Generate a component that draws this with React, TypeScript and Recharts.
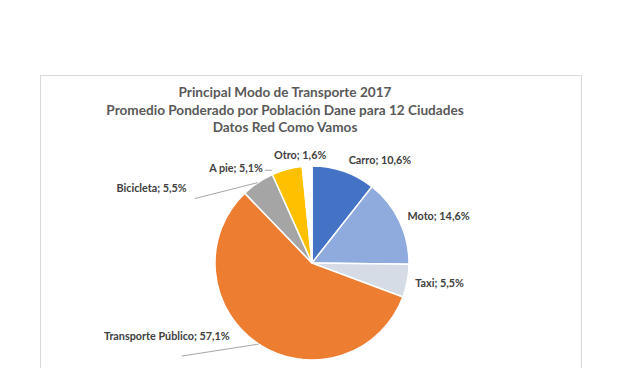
import { PieChart, Pie, Cell } from 'recharts';

const modes = ['Carro', 'Moto', 'Taxi', 'Transporte Público', 'Bicicleta', 'A pie', 'Otro'];
const shares = [10.6, 14.6, 5.5, 57.1, 5.5, 5.1, 1.6];
const colors = ['#4472C4', '#8FAADC', '#D6DCE5', '#ED7D31', '#A5A5A5', '#FFC000', '#FFFFFF'];

const titleLines = [
  'Principal Modo de Transporte 2017',
  'Promedio Ponderado por Población Dane para 12 Ciudades',
  'Datos Red Como Vamos',
];

const data = modes.map((name, i) => ({ name, value: shares[i] }));

// label placement relative to the slice edge at its mid angle (Excel-like layout)
const labelLayout: Record<string, { dx: number; dy: number; anchor: string; line?: [number, number, number, number] }> = {
  Carro: { dx: 5, dy: -12, anchor: 'start' },
  Moto: { dx: 8, dy: -6, anchor: 'start' },
  Taxi: { dx: 8, dy: 2, anchor: 'start' },
  'Transporte Público': { dx: -29, dy: -9, anchor: 'end', line: [0, 0, -77, 12] },
  Bicicleta: { dx: -71, dy: 5, anchor: 'end', line: [0, 0, -63, 16] },
  'A pie': { dx: -24, dy: -2, anchor: 'end', line: [-15, 1, -22, 1] },
  Otro: { dx: -7, dy: -12, anchor: 'middle' },
};

const RAD = Math.PI / 180;

const renderLabel = (props: any) => {
  const { cx, cy, midAngle, outerRadius, name, value } = props;
  const ex = cx + outerRadius * Math.cos(-midAngle * RAD);
  const ey = cy + outerRadius * Math.sin(-midAngle * RAD);
  const l = labelLayout[name];
  const txt = `${name}; ${value.toFixed(1).replace('.', ',')}%`;
  return (
    <g>
      {l.line && (
        <line x1={ex + l.line[0]} y1={ey + l.line[1]} x2={ex + l.line[2]} y2={ey + l.line[3]} stroke="#a6a6a6" strokeWidth={1} />
      )}
      <text x={ex + l.dx} y={ey + l.dy} textAnchor={l.anchor as any} dominantBaseline="central" fill="#404040" fontSize={10.8} fontWeight="bold" fontFamily="Lato">
        {txt}
      </text>
    </g>
  );
};

export default function App() {
  return (
    <div style={{ position: 'absolute', left: 0, top: 0, width: 640, height: 368, background: '#fff', overflow: 'hidden' }}>
      <div style={{ position: 'absolute', left: 40, top: 75, width: 540, height: 320, border: '1px solid #d9d9d9' }} />
      <div style={{ position: 'absolute', left: 0, top: 84, width: 570, textAlign: 'center', fontFamily: 'Lato', fontWeight: 'bold', fontSize: 13.6, lineHeight: '17.5px', color: '#595959' }}>
        {titleLines.map((t) => (
          <div key={t}>{t}</div>
        ))}
      </div>
      <div style={{ position: 'absolute', left: 0, top: 0 }}>
        <PieChart width={640} height={368} margin={{ top: 0, right: 0, bottom: 0, left: 0 }}>
          <Pie
            data={data}
            dataKey="value"
            nameKey="name"
            cx={312}
            cy={263}
            outerRadius={97}
            startAngle={90}
            endAngle={-270}
            stroke="#ffffff"
            strokeWidth={1.5}
            label={renderLabel}
            labelLine={false}
            isAnimationActive={false}
          >
            {data.map((d, i) => (
              <Cell key={d.name} fill={colors[i]} />
            ))}
          </Pie>
        </PieChart>
      </div>
    </div>
  );
}
